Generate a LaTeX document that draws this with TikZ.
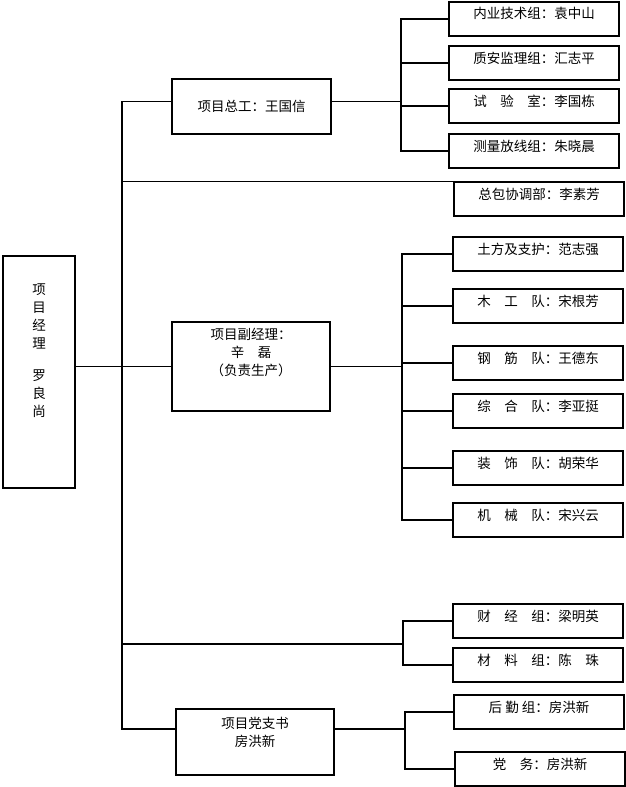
\documentclass[tikz,border=0pt]{standalone}
\usepackage{fontspec}
\setmainfont{Noto Sans CJK SC}
\begin{document}
\begin{tikzpicture}[x=1pt,y=-1pt]
    \tikzstyle{box} = [draw, line width=2pt, inner sep=0pt, anchor=north west, font=\fontsize{13.5}{18}\selectfont];
    \tikzstyle{unit} = [box, minimum width=170pt, text height=17pt, text depth=17pt];
    \tikzstyle{head} = [box, align=center];
    \tikzstyle{link} = [line width=1.6pt, line cap=rect];
    \tikzstyle{thin link} = [line width=0.8pt];

    \useasboundingbox (0,0) rectangle (625,787);

    % leaders
    \node[head, minimum width=72pt, text height=160pt, text depth=72pt] (jl) at (2,255) {项\\目\\经\\理\\[14pt]罗\\良\\尚};
    \node[head, minimum width=159pt, minimum height=55pt] (zg) at (171,78) {项目总工：王国信};
    \node[head, minimum width=158pt, text height=53pt, text depth=36pt] (fj) at (171,321) {项目副经理：\\辛　磊\\（负责生产）};
    \node[head, minimum width=158pt, text height=37pt, text depth=29pt] (dz) at (175,708) {项目党支书\\房洪新};

    % departments
    \foreach \y/\lbl [count=\i] in {1/内业技术组：袁中山, 45/质安监理组：汇志平, 88/试　验　室：李国栋, 133/测量放线组：朱晓晨}
        \node[unit] (A-\i) at (448,\y) {\lbl};

    \node[unit] (zb) at (453,181) {总包协调部：李素芳};

    \foreach \y/\lbl [count=\i] in {236/土方及支护：范志强, 288/木　工　队：宋根芳, 345/钢　筋　队：王德东, 393/综　合　队：李亚挺, 450/装　饰　队：胡荣华, 502/机　械　队：宋兴云}
        \node[unit] (B-\i) at (452,\y) {\lbl};

    \foreach \y/\lbl [count=\i] in {603/财　经　组：梁明英, 647/材　料　组：陈　珠}
        \node[unit] (C-\i) at (452,\y) {\lbl};

    \node[unit] (D-1) at (453,694) {后 勤 组：房洪新};
    \node[unit] (D-2) at (454,751) {党　务：房洪新};

    % buses
    \coordinate (bus) at (122,0);
    \coordinate (zgbus) at (401,0);
    \coordinate (fjbus) at (402,0);
    \coordinate (cjbus) at (403,644);
    \coordinate (dzbus) at (405,0);
    \coordinate (zgin) at ([yshift=5pt]zg.west);
    \coordinate (zgout) at ([yshift=5pt]zg.east);
    \coordinate (dzin) at ([yshift=-21pt]dz.north west);
    \coordinate (dzout) at ([yshift=-21pt]dz.north east);

    \draw[link] (bus |- zgin) -- (bus |- dzin);
    \draw[link] (bus |- zgin) -- (zgin);
    \draw[thin link] (bus |- zb.north west) -- (zb.north west);
    \draw[link] (jl.east |- fj.west) -- (fj.west);
    \draw[link] (bus |- cjbus) -- (cjbus);
    \draw[link] (bus |- dzin) -- (dzin);

    \draw[link] (zgout) -- (zgbus |- zgout);
    \draw[link] (zgbus |- A-1.west) -- (zgbus |- A-4.west);
    \foreach \i in {1,...,4}
        \draw[link] (zgbus |- A-\i.west) -- (A-\i.west);

    \draw[link] (fj.east) -- (fjbus |- fj.east);
    \draw[link] (fjbus |- B-1.west) -- (fjbus |- B-6.west);
    \foreach \i in {1,...,6}
        \draw[link] (fjbus |- B-\i.west) -- (B-\i.west);

    \draw[link] (cjbus |- C-1.west) -- (cjbus |- C-2.west);
    \foreach \i in {1,2}
        \draw[link] (cjbus |- C-\i.west) -- (C-\i.west);

    \draw[link] (dzout) -- (dzbus |- dzout);
    \draw[link] (dzbus |- D-1.west) -- (dzbus |- D-2.west);
    \foreach \i in {1,2}
        \draw[link] (dzbus |- D-\i.west) -- (D-\i.west);

\end{tikzpicture}
\end{document}
